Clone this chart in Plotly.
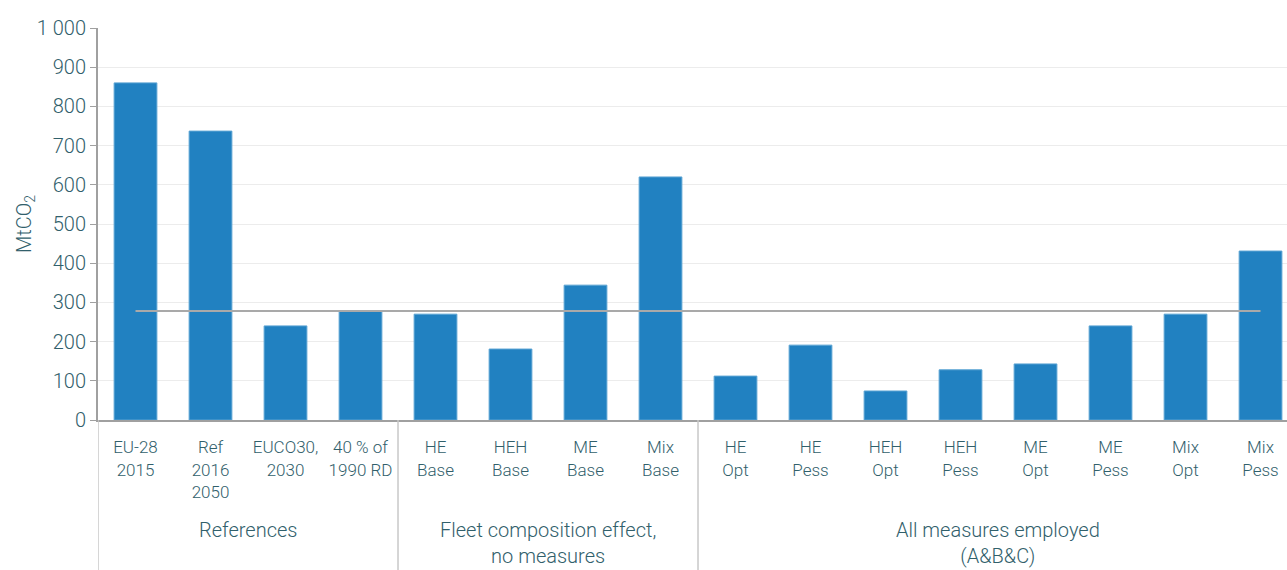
import plotly.graph_objects as go

categories = ["EU-28<br>2015", "Ref<br>2016<br>2050", "EUCO30,<br>2030", "40 % of<br>1990 RD",
              "HE<br>Base", "HEH<br>Base", "ME<br>Base", "Mix<br>Base",
              "HE<br>Opt", "HE<br>Pess", "HEH<br>Opt", "HEH<br>Pess",
              "ME<br>Opt", "ME<br>Pess", "Mix<br>Opt", "Mix<br>Pess"]
emissions = [860, 737, 240, 278, 270, 181, 344, 620,
             112, 191, 74, 128, 143, 240, 270, 431]
reference_level = 278
groups = ["References", "Fleet composition effect,<br>no measures", "All measures employed<br>(A&B&C)"]
group_spans = [(0, 3), (4, 7), (8, 15)]

text_color = "#31606b"
font = "Roboto, sans-serif"
xs = list(range(len(categories)))

fig = go.Figure()
fig.add_trace(go.Bar(
    x=xs, y=emissions, width=0.57,
    marker=dict(color="#2181c1", line=dict(color="#5aa3d3", width=1)),
    hoverinfo="y",
))
fig.add_trace(go.Scatter(
    x=[xs[0], xs[-1]], y=[reference_level, reference_level],
    mode="lines", line=dict(color="#a9a9a9", width=2), hoverinfo="skip",
))

# group labels and separators under the axis
for name, (a, b) in zip(groups, group_spans):
    fig.add_annotation(x=(a + b) / 2, y=-0.245, xref="x", yref="paper", text=name,
                       showarrow=False, yanchor="top",
                       font=dict(size=20, color=text_color, weight=300))
for sep in [-0.5, 3.5, 7.5]:
    fig.add_shape(type="line", x0=sep, x1=sep, y0=0, y1=-0.39, xref="x", yref="paper",
                  line=dict(color="#c8c8c8", width=1.5))

# y axis title
fig.add_annotation(x=-0.0614, y=0.5, xref="paper", yref="paper", text="MtCO<sub>2</sub>",
                   textangle=-90, showarrow=False, xanchor="center", yanchor="middle",
                   font=dict(size=20, color=text_color, weight=300))

fig.update_layout(
    width=1287, height=570,
    margin=dict(l=98, r=0, t=28, b=150),
    paper_bgcolor="white", plot_bgcolor="white",
    font=dict(family=font, color=text_color, size=17, weight=300),
    showlegend=False,
    separators=". ",
    xaxis=dict(
        tickvals=xs, ticktext=categories, range=[-0.5, 15.353], tickangle=0,
        showgrid=False, zeroline=False, showline=True, linecolor="#a0a0a0", linewidth=2,
        ticks="", ticklabelstandoff=11,
        tickfont=dict(size=17, color=text_color, weight=300),
    ),
    yaxis=dict(
        range=[0, 1000], dtick=100, tickformat=",d",
        showgrid=True, gridcolor="#ececec", gridwidth=1, zeroline=False,
        showline=True, linecolor="#a0a0a0", linewidth=2,
        ticks="outside", ticklen=6, tickcolor="#a0a0a0",
        tickfont=dict(size=20, color=text_color, weight=300),
    ),
)

fig.write_html("out.html", post_script="document.body.style.margin='0';",
               config={"displayModeBar": False})
